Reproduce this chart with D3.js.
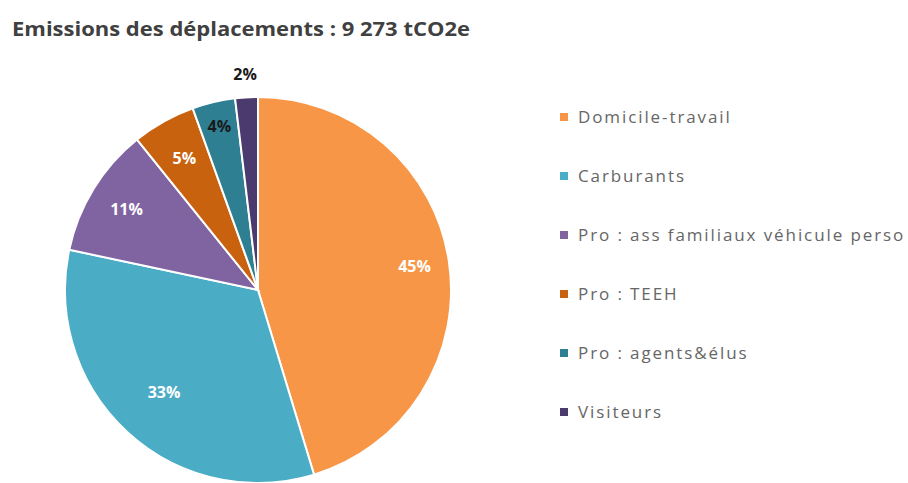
<!DOCTYPE html>
<html>
<head>
<meta charset="utf-8">
<script src="https://cdn.jsdelivr.net/npm/d3@7"></script>
<style>
  body { margin: 0; background: #fff; overflow: hidden; }
</style>
</head>
<body>
<div id="chart"></div>
<script>
// size of the page
const width = 908; const height = 483;

// data
const categories = ["Domicile-travail", "Carburants", "Pro : ass familiaux véhicule perso",
    "Pro : TEEH", "Pro : agents&élus", "Visiteurs"];
const shares = [45.4, 33.1, 10.9, 5.3, 3.6, 1.9];
const sliceColors = ["#F79646", "#4BACC6", "#8064A2", "#C9620F", "#2F7F92", "#4B3A6E"];
const labelColors = ["#fff", "#fff", "#fff", "#fff", "#1a1a1a", "#1a1a1a"];
const title = "Emissions des déplacements : 9 273 tCO2e";

const data = categories.map((c, i) => ({name: c, value: shares[i]}));
const total = d3.sum(shares);

const svg = d3.select("#chart")
    .append("svg")
        .attr("width", width)
        .attr("height", height)
        .style("font-family", "'Open Sans', sans-serif");

// title
svg.append("text")
    .attr("x", 12)
    .attr("y", 36)
    .attr("fill", "#404040")
    .attr("font-size", "20px")
    .attr("font-weight", "bold")
    .attr("textLength", 458)
    .attr("lengthAdjust", "spacingAndGlyphs")
    .text(title);

// pie
const cx = 258, cy = 290, radius = 193;
const color = d3.scaleOrdinal().domain(categories).range(sliceColors);

const pie = d3.pie()
    .sort(null)
    .value(d => d.value);
const arc = d3.arc().innerRadius(0).outerRadius(radius);
const arcs = pie(data);

const pieG = svg.append("g")
    .attr("transform", `translate(${cx}, ${cy})`);

pieG.selectAll("path")
    .data(arcs)
    .enter().append("path")
        .attr("d", arc)
        .attr("fill", d => color(d.data.name))
        .attr("stroke", "#fff")
        .attr("stroke-width", 2);

// percentage labels, the smallest one sits outside
const labelRadius = [0.82, 0.72, 0.8, 0.78, 0.87, 1.12];
pieG.selectAll("text.pct")
    .data(arcs)
    .enter().append("text")
        .attr("class", "pct")
        .attr("transform", (d, i) => {
            const a = (d.startAngle + d.endAngle) / 2;
            const r = radius * labelRadius[i];
            return `translate(${Math.sin(a) * r}, ${-Math.cos(a) * r})`;
        })
        .attr("text-anchor", "middle")
        .attr("dy", "0.35em")
        .attr("font-size", "16px")
        .attr("font-weight", "bold")
        .attr("fill", (d, i) => labelColors[i])
        .text(d => Math.round(d.data.value / total * 100) + "%");

// legend
const legendY = d3.scalePoint()
    .domain(categories)
    .range([117, 412]);

const legend = svg.append("g");
legend.selectAll("rect")
    .data(categories)
    .enter().append("rect")
        .attr("x", 560)
        .attr("y", d => legendY(d) - 4)
        .attr("width", 8)
        .attr("height", 8)
        .attr("fill", d => color(d));

legend.selectAll("text")
    .data(categories)
    .enter().append("text")
        .attr("x", 578)
        .attr("y", d => legendY(d))
        .attr("dy", "0.35em")
        .attr("font-size", "17px")
        .attr("letter-spacing", "1.9px")
        .attr("fill", "#666")
        .text(d => d);
</script>
</body>
</html>
